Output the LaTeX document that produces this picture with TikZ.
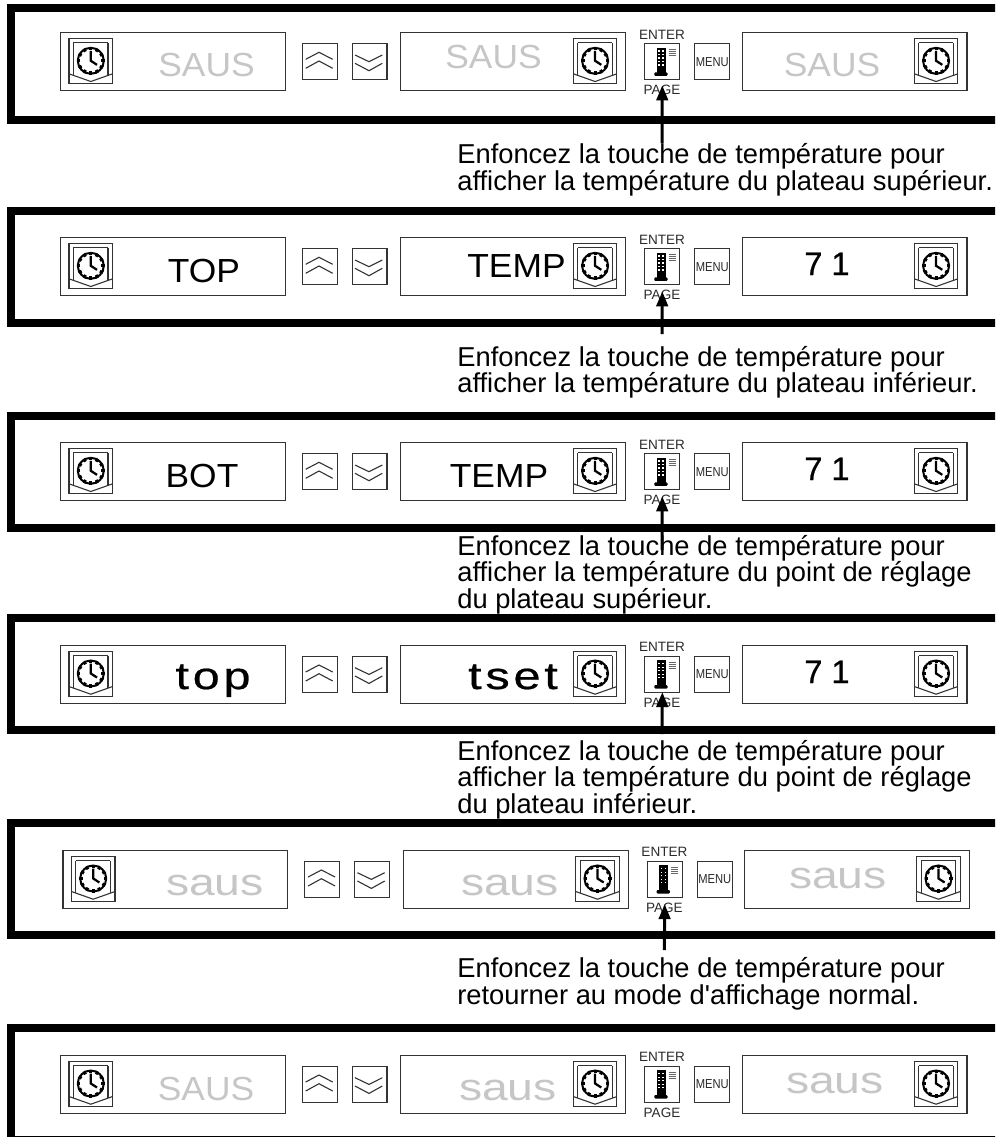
\documentclass[tikz,border=0pt]{standalone}
\usepackage{fontspec}
\usepackage{tikz}
\usetikzlibrary{arrows.meta}
\setmainfont{Liberation Sans}
\newfontfamily\capsdisp[FakeStretch=1.06]{Liberation Sans}
\newfontfamily\digitfont[FakeBold=0.8]{Liberation Sans}
\newfontfamily\menufont[FakeStretch=0.86]{Liberation Sans}
\newfontfamily\widefont[FakeStretch=1.22]{Liberation Sans}
\newfontfamily\trackfont[FakeStretch=1.28,LetterSpace=10,FakeBold=0.6]{Liberation Sans}
\definecolor{dimtext}{HTML}{C6C6C6}
\definecolor{keytext}{HTML}{2A2A2A}
\tikzset{
 band/.style={line width=0.16cm},
 thin line/.style={line width=0.022cm,draw=black!80},
 dispbox/.style={draw,thin line,anchor=north west,inner sep=0pt,minimum width=4.5cm,minimum height=1.16cm},
 keybox/.style={draw,thin line,anchor=north west,inner sep=0pt,minimum width=0.7cm,minimum height=0.72cm},
 keylabel/.style={anchor=base,inner sep=0pt,text=keytext,font=\fontsize{7.7}{8}\selectfont},
 menulabel/.style={inner sep=0pt,text=keytext,font=\fontsize{7.4}{8}\menufont},
 capsfont/.style={anchor=base,inner sep=0pt,font=\fontsize{19}{20}\capsdisp},
 digitdisp/.style={anchor=base,inner sep=0pt,font=\fontsize{18.5}{20}\digitfont},
 widelow/.style={anchor=base,inner sep=0pt,font=\fontsize{21.6}{23}\widefont},
 tracklow/.style={anchor=base,inner sep=0pt,font=\fontsize{21.6}{23}\trackfont},
 caption/.style={anchor=base west,inner sep=0pt,align=left,font=\fontsize{15.55}{16}\selectfont},
 pressarrow/.style={line width=0.06cm,-{Triangle[length=0.3cm,width=0.23cm]}},
}
% clock icon: #1 left of the frame, #2 top of the frame
\newcommand{\clockicon}[2]{
\begin{scope}[shift={(#1,#2)}]
\draw[thin line](0,0)rectangle(43.6,45);
\draw[thin line](4.4,4)--(4.4,36.5);
\draw[thin line](39,4)--(39,36.5);
\draw[thin line](4.4,4)--(39,4);
\draw[thin line](0,35)--(21.8,42.7)--(43.6,35);
\draw[line width=0.04cm](21.8,22)circle (13);
\foreach \a in {0,30,...,330}{\draw[line width=0.06cm](21.8,22)+(\a:10.6)--+(\a:14);}
\draw[line width=0.045cm](21.8,12)--(21.8,22)--(28,26);
\end{scope}}
% one control panel: #1 name, #2 x shift, #3 top of the band, #4 top of the boxes
\newcommand{\ovenpanel}[4]{
\draw[band](996,#3+4)--(11,#3+4)--(11,#3+116)--(996,#3+116);
\begin{scope}[xshift=#2*0.02cm]
\node[dispbox](boxa#1) at (60,#4){};
\node[dispbox](boxb#1) at (400.3,#4){};
\node[dispbox](boxc#1) at (741.5,#4){};
\clockicon{69}{#4+6.5}
\clockicon{573.3}{#4+6.5}
\clockicon{914.3}{#4+6.5}
\node[keybox](up#1) at (301.7,#4+11){};
\node[keybox](down#1) at (351.5,#4+11){};
\node[keybox](enter#1) at (644.3,#4+11){};
\node[keybox](menu#1) at (694.3,#4+11){};
\draw[thin line](305.7,#4+27)--(319,#4+20)--(332.7,#4+27);
\draw[thin line](305.7,#4+36)--(319,#4+28.7)--(332.7,#4+36);
\draw[thin line](355,#4+22.7)--(369,#4+29.4)--(382.3,#4+22.7);
\draw[thin line](355,#4+31)--(369,#4+38.4)--(382.3,#4+31);
\node[keylabel](entertext#1) at (662,#4+6.7){ENTER};
\node[keylabel](pagetext#1) at (662,#4+62.5){PAGE};
\node[menulabel](menutext#1) at (menu#1.center){MENU};
\fill(656.7,#4+15.3)rectangle(665.7,#4+40.5);
\fill[rounded corners=0.02cm](654.3,#4+40)rectangle(667.5,#4+43.5);
\foreach \r in {18,21.5,25,28.5,32}{
\fill[white](658.4,#4+\r)rectangle(659.8,#4+\r+1.4);
\fill[white](662.4,#4+\r)rectangle(663.8,#4+\r+1.4);}
\foreach \r in {17,19.2,21.4,23.6}{\draw[line width=0.02cm,black!60](668.5,#4+\r)--(675.5,#4+\r);}
\end{scope}}
\begin{document}
\begin{tikzpicture}[x=0.02cm,y=-0.02cm]
\useasboundingbox(0,0)rectangle(995,1137);
\clip(0,0)rectangle(995,1137);
\ovenpanel{a}{0}{4}{32.3}
\ovenpanel{b}{0}{207}{237.3}
\ovenpanel{c}{0}{412}{442.3}
\ovenpanel{d}{0}{614.3}{645}
\ovenpanel{e}{2.4}{819.3}{850}
\ovenpanel{f}{0}{1024}{1055}
%display texts
\node[capsfont,text=dimtext](texta1) at (206.5,76){SAUS};
\node[capsfont,text=dimtext](texta2) at (493.5,68){SAUS};
\node[capsfont,text=dimtext](texta3) at (832,76){SAUS};
\node[capsfont](textb1) at (204,282){TOP};
\node[capsfont](textb2) at (516.5,277){TEMP};
\node[digitdisp](textb3) at (827,275){7 1};
\node[capsfont](textc1) at (202,487){BOT};
\node[capsfont](textc2) at (499,487){TEMP};
\node[digitdisp](textc3) at (827,480){7 1};
\node[tracklow](textd1) at (213,689){top};
\node[tracklow](textd2) at (513,689){tset};
\node[digitdisp](textd3) at (827,683){7 1};
\node[widelow,text=dimtext](texte1) at (215,895){saus};
\node[widelow,text=dimtext](texte2) at (510,895){saus};
\node[widelow,text=dimtext](texte3) at (838,888){saus};
\node[capsfont,text=dimtext](textf1) at (206,1100){SAUS};
\node[widelow,text=dimtext](textf2) at (508,1100){saus};
\node[widelow,text=dimtext](textf3) at (835,1093){saus};
%captions
\node[caption](capa) at (457,163.5){Enfoncez la touche de température pour};
\node[caption](capaa) at (457,190.2){afficher la température du plateau supérieur.};
\node[caption](capb) at (457,366){Enfoncez la touche de température pour};
\node[caption](capbb) at (457,392.7){afficher la température du plateau inférieur.};
\node[caption](capc) at (457,555){Enfoncez la touche de température pour};
\node[caption](capcc) at (457,581.7){afficher la température du point de réglage};
\node[caption](capccc) at (457,608.4){du plateau supérieur.};
\node[caption](capd) at (457,760){Enfoncez la touche de température pour};
\node[caption](capdd) at (457,786.7){afficher la température du point de réglage};
\node[caption](capddd) at (457,813.4){du plateau inférieur.};
\node[caption](cape) at (457,977.5){Enfoncez la touche de température pour};
\node[caption](capee) at (457,1004.2){retourner au mode d\textquotesingle affichage normal.};
%arrows
\coordinate(taila) at (662,143);
\coordinate(tailb) at (662,334);
\coordinate(tailc) at (662,550);
\coordinate(taild) at (662,734);
\coordinate(taile) at (664.4,950);
\draw[pressarrow,shorten >=0.1cm](taila)--(entera.south);
\draw[pressarrow,shorten >=0.12cm](tailb)--(enterb.south);
\draw[pressarrow,shorten >=0.12cm](tailc)--(enterc.south);
\draw[pressarrow,shorten >=-0.02cm](taild)--(enterd.south);
\draw[pressarrow,shorten >=0.12cm](taile)--(entere.south);
\end{tikzpicture}
\end{document}
